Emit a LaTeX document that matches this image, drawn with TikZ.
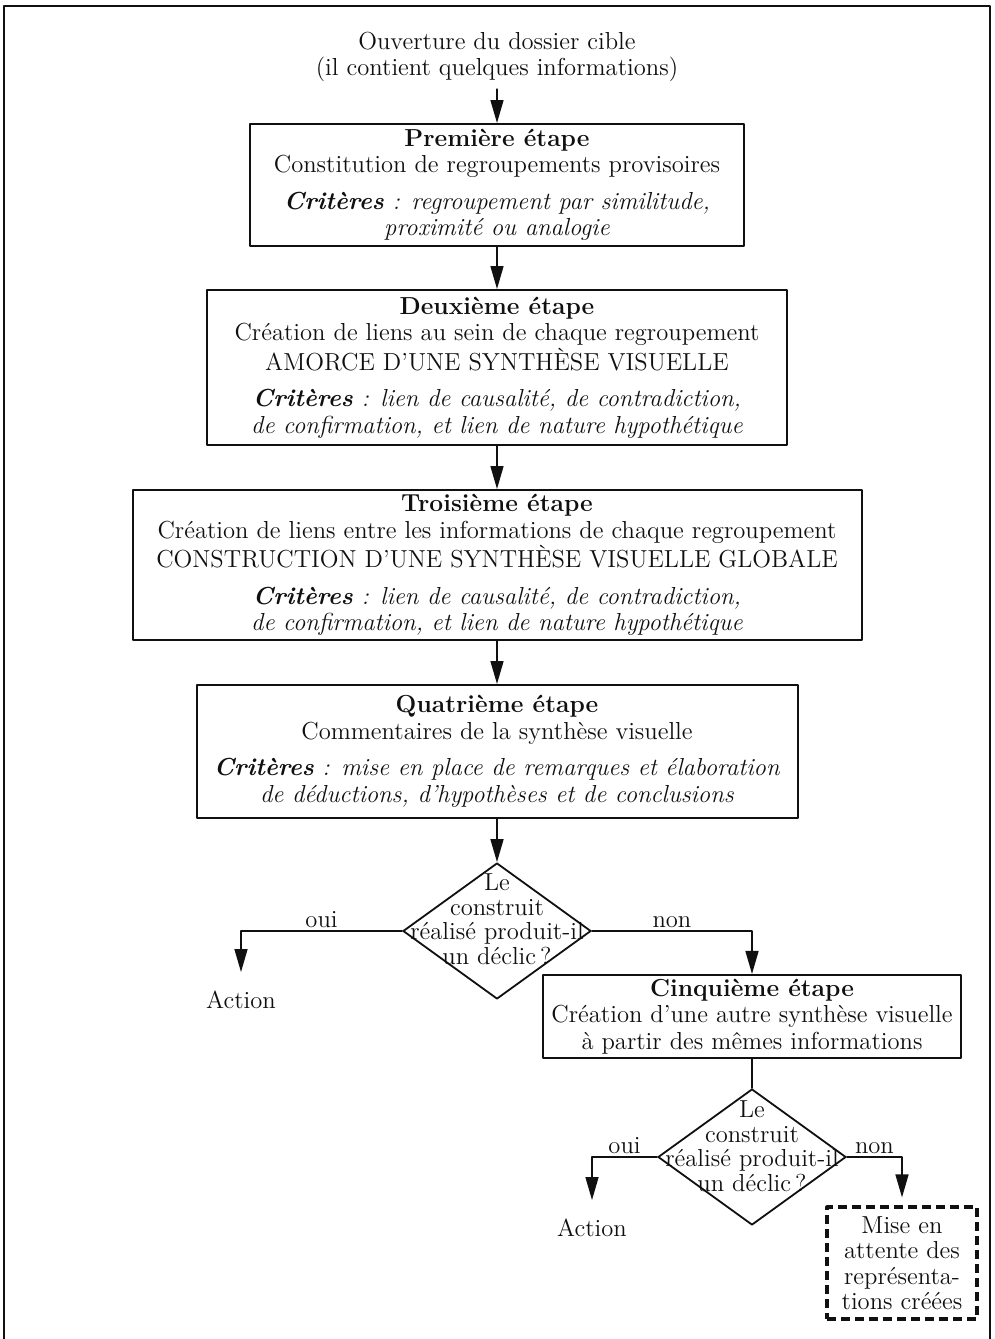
\documentclass[tikz,border=0pt]{standalone}
\usepackage{fontspec}
\usepackage{tikz}
\usetikzlibrary{arrows.meta,calc,shapes.geometric}
\definecolor{flowink}{HTML}{101010}

\begin{document}
\begin{tikzpicture}[x=.5pt,y=-.5pt,>={Triangle[length=11.5pt,width=6.5pt]},
  line cap=round,line join=round,
  font=\fontsize{12.3}{13.25}\selectfont,text=flowink,
  stepbox/.style={draw=flowink,line width=1pt,align=center,inner sep=2pt},
  askbox/.style={diamond,draw=flowink,line width=.9pt,inner sep=0pt,
    minimum width=94pt,minimum height=68pt},
  waitbox/.style={draw=flowink,line width=1.6pt,dash pattern=on 4.5pt off 2.5pt,
    line cap=butt,align=center,minimum width=75pt,minimum height=56pt},
  link/.style={->,draw=flowink,line width=.75pt},
  ans/.style={above,inner sep=1.5pt}]
\path[use as bounding box] (0,0) rectangle (995,1339);
\fill[white] (0,0) rectangle (995,1339);
\draw[flowink,line width=1.4pt] (4,1339)--(4,6)--(990,6)--(990,1339);

% colonne principale : ouverture, puis les quatre étapes
\node[align=center] (start) at (497,57) {Ouverture du dossier cible\\(il contient quelques informations)};
\node[stepbox,minimum width=247pt,minimum height=61pt] (b1) at (497,185)
  {\textbf{Première étape}\\Constitution de regroupements provisoires\\[5pt]
   {\bfseries\itshape Critères}\textit{ : regroupement par similitude,}\\
   \textit{proximité ou analogie}};
\node[stepbox,minimum width=290pt,minimum height=77.5pt] (b2) at (497,367.5)
  {\textbf{Deuxième étape}\\Création de liens au sein de chaque regroupement\\
   AMORCE D’UNE SYNTHÈSE VISUELLE\\[5pt]
   {\bfseries\itshape Critères}\textit{ : lien de causalité, de contradiction,}\\
   \textit{de confirmation, et lien de nature hypothétique}};
\node[stepbox,minimum width=364.5pt,minimum height=75pt] (b3) at (497,565)
  {\textbf{Troisième étape}\\Création de liens entre les informations de chaque regroupement\\
   CONSTRUCTION D’UNE SYNTHÈSE VISUELLE GLOBALE\\[5pt]
   {\bfseries\itshape Critères}\textit{ : lien de causalité, de contradiction,}\\
   \textit{de confirmation, et lien de nature hypothétique}};
\node[stepbox,minimum width=300.5pt,minimum height=66.5pt] (b4) at (497,751.5)
  {\textbf{Quatrième étape}\\Commentaires de la synthèse visuelle\\[5pt]
   {\bfseries\itshape Critères}\textit{ : mise en place de remarques et élaboration}\\
   \textit{de déductions, d’hypothèses et de conclusions}};

% premier test, puis la cinquième étape et le second test
\node[askbox,label={[align=center,yshift=6pt,font=\fontsize{12.3}{12.25}\selectfont]center:{Le\\construit\\réalisé produit-il\\un déclic\,?}}] (d1) at (497,931) {};
\node (act1) at (241,1000) {Action};
\node[stepbox,minimum width=209pt,minimum height=40.5pt] (b5) at (752,1016.5)
  {\textbf{Cinquième étape}\\Création d’une autre synthèse visuelle\\à partir des mêmes informations};
\node[askbox,label={[align=center,yshift=5.5pt,font=\fontsize{12.3}{12.25}\selectfont]center:{Le\\construit\\réalisé produit-il\\un déclic\,?}}] (d2) at (752,1157) {};
\node (act2) at (592,1228) {Action};
\node[waitbox,font=\fontsize{12.3}{12.75}\selectfont] (wait) at (902,1263)
  {Mise en\\attente des\\représenta-\\tions créées};

\draw[link] (start)--(b1);
\draw[link] (b1)--(b2);
\draw[link] (b2)--(b3);
\draw[link] (b3)--(b4);
\draw[link] (b4)--(d1);
\draw[link,shorten >=6pt] (d1.west) -| node[ans,pos=.25] {oui} (act1);
\draw[link] (d1.east) -| node[ans,pos=.25] {non} (b5);
\draw[flowink,line width=.75pt] (b5)--(d2);
\draw[link,shorten >=6pt] (d2.west) -| node[ans,pos=.25] {oui} (act2);
\draw[link,shorten >=4pt] (d2.east) -| node[ans,pos=.25] {non} (wait);
\end{tikzpicture}
\end{document}
